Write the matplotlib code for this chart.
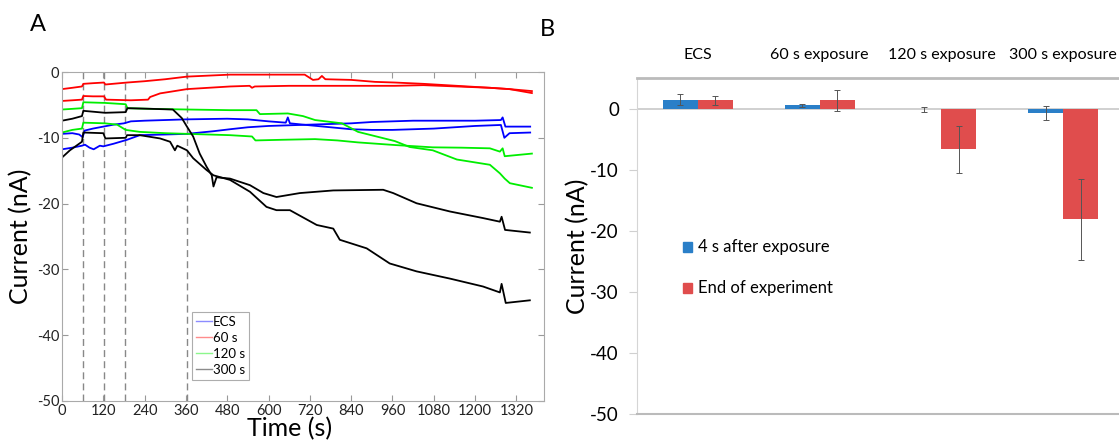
import matplotlib
matplotlib.use("Agg")
import matplotlib.pyplot as plt
from matplotlib.patches import Patch
from matplotlib.lines import Line2D

plt.rcParams['font.family'] = ['Lato', 'DejaVu Sans']
plt.rcParams['axes.unicode_minus'] = False

# ---- panel A: current traces (two recordings per condition) ----
ecs_1_t = [0, 30, 50, 60, 66, 90, 120, 150, 180, 200, 240, 300, 360, 480, 540, 600, 650, 656, 662,
           720, 780, 840, 900, 960, 1020, 1080, 1140, 1200, 1275, 1285, 1300, 1360]
ecs_1 = [-9.4, -9.3, -9.5, -9.9, -8.9, -8.6, -8.3, -8.0, -7.8, -7.5, -7.4, -7.3, -7.2, -7.1, -7.2, -7.5, -7.7, -6.9, -7.8,
         -8.1, -8.4, -8.7, -8.8, -8.8, -8.7, -8.6, -8.4, -8.2, -8.05, -10.0, -9.3, -9.2]
ecs_2_t = [0, 30, 58, 67, 80, 92, 110, 120, 150, 189, 226, 300, 363, 440, 488, 540, 600, 660, 720,
           780, 840, 900, 960, 1020, 1080, 1140, 1200, 1275, 1280, 1288, 1360]
ecs_2 = [-11.75, -11.5, -11.2, -11.05, -11.5, -11.75, -11.2, -11.3, -10.9, -10.3, -9.6, -9.5, -9.4, -9.0, -8.7, -8.4, -8.2, -8.1, -8.0,
         -7.9, -7.8, -7.6, -7.5, -7.4, -7.4, -7.4, -7.4, -7.3, -6.9, -8.3, -8.3]

s60_1_t = [0, 30, 58, 62, 90, 122, 126, 189, 240, 300, 363, 488, 600, 705, 729, 745, 755, 765,
           840, 909, 967, 1050, 1147, 1243, 1300, 1365]
s60_1 = [-2.6, -2.4, -2.2, -1.8, -1.7, -1.6, -1.9, -1.6, -1.4, -1.1, -0.7, -0.4, -0.4, -0.4, -1.2, -1.1, -0.6, -1.1,
         -1.2, -1.5, -1.6, -1.8, -2.1, -2.4, -2.6, -3.2]
s60_2_t = [0, 30, 58, 62, 90, 122, 128, 200, 250, 256, 285, 363, 488, 545, 552, 560, 660, 780,
           900, 967, 1050, 1147, 1243, 1300, 1365]
s60_2 = [-4.4, -4.3, -4.2, -3.65, -3.7, -3.7, -4.2, -4.3, -4.2, -3.8, -3.25, -2.6, -2.2, -2.1, -2.4, -2.2, -2.1, -2.1,
         -2.1, -2.1, -2.0, -2.2, -2.4, -2.6, -2.9]

s120_1_t = [0, 30, 58, 62, 125, 185, 190, 260, 363, 488, 565, 575, 656, 700, 735, 813, 860, 967,
            1010, 1077, 1147, 1243, 1272, 1286, 1301, 1365]
s120_1 = [-5.7, -5.6, -5.5, -4.6, -4.7, -4.9, -5.5, -5.6, -5.7, -5.8, -5.8, -6.4, -6.3, -6.7, -7.3, -7.8, -9.1, -10.5,
          -11.4, -11.9, -13.3, -14.1, -15.4, -16.2, -16.9, -17.6]
s120_2_t = [0, 30, 58, 62, 125, 160, 185, 226, 300, 363, 488, 552, 562, 640, 735, 800, 860, 967,
            1077, 1160, 1243, 1272, 1280, 1286, 1365]
s120_2 = [-9.2, -8.8, -8.6, -7.7, -7.8, -8.0, -8.8, -9.1, -9.3, -9.4, -9.6, -9.8, -10.4, -10.3, -10.2, -10.4, -10.7, -11.1,
          -11.45, -11.5, -11.6, -12.1, -11.6, -12.8, -12.4]

s300_1_t = [0, 30, 58, 62, 125, 185, 190, 260, 322, 348, 363, 381, 400, 420, 435, 440, 449, 488,
            546, 585, 623, 691, 788, 933, 962, 1030, 1127, 1223, 1272, 1277, 1287, 1359]
s300_1 = [-7.4, -7.1, -6.7, -5.9, -6.2, -6.1, -5.5, -5.6, -5.7, -7.0, -8.3, -9.8, -12.4, -14.4, -15.7, -17.4, -16.0, -16.2,
          -17.2, -18.4, -19.0, -18.4, -18.0, -17.9, -18.4, -19.95, -21.2, -22.2, -22.75, -22.0, -24.0, -24.4]
s300_2_t = [0, 23, 58, 62, 120, 126, 185, 189, 226, 285, 314, 328, 335, 363, 381, 420, 440, 488,
            546, 594, 623, 662, 740, 788, 807, 885, 952, 1030, 1127, 1223, 1272, 1277, 1289, 1359]
s300_2 = [-13.0, -11.9, -10.6, -9.2, -9.3, -10.1, -10.0, -9.6, -9.6, -10.1, -10.6, -11.9, -11.2, -11.9, -13.1, -14.9, -15.7, -16.4,
          -18.2, -20.5, -21.0, -21.0, -23.25, -23.8, -25.5, -26.8, -29.1, -30.3, -31.4, -32.6, -33.5, -32.2, -35.1, -34.7]

exposure_marks = [62, 122, 182, 362]
trace_labels = ['ECS', '60 s', '120 s', '300 s']
trace_colors = ['#0000FF', '#FF0000', '#00EE00', '#000000']

# ---- panel B: mean current per condition ----
groups = ['ECS', '60 s exposure', '120 s exposure', '300 s exposure']
after_4s = [1.45, 0.5, -0.15, -0.75]
after_4s_err = [0.9, 0.2, 0.35, 1.2]
end_exp = [1.35, 1.35, -6.7, -18.15]
end_exp_err = [0.7, 1.75, 3.8, 6.6]
bar_labels = ['4 s after exposure', 'End of experiment']
bar_colors = ['#2A7FC8', '#E04D4D']

fig = plt.figure(figsize=(11.19, 4.45), dpi=100)

# panel A
ax = fig.add_axes([0.0554, 0.0989, 0.4307, 0.7393])
pairs = [(ecs_1_t, ecs_1, ecs_2_t, ecs_2), (s60_1_t, s60_1, s60_2_t, s60_2),
         (s120_1_t, s120_1, s120_2_t, s120_2), (s300_1_t, s300_1, s300_2_t, s300_2)]
for (t1, y1, t2, y2), c in zip(pairs, trace_colors):
    ax.plot(t1, y1, color=c, lw=1.3)
    ax.plot(t2, y2, color=c, lw=1.3)
for xm in exposure_marks:
    ax.axvline(xm, color='#888888', lw=1, ls=(0, (5, 3)), zorder=0)

ax.set_xlim(0, 1400)
ax.set_ylim(-50, 0)
ax.set_xticks(range(0, 1321, 120))
ax.set_yticks(range(-50, 1, 10))
ax.tick_params(direction='in', top=True, right=True, length=4, color='#999999',
               labelsize=10.5, labelcolor='#222222', pad=2)
for s in ax.spines.values():
    s.set_color('#AAAAAA')
ax.set_xlabel('Time (s)', fontsize=18)
ax.xaxis.set_label_coords(0.473, -0.05)
ax.set_ylabel('Current (nA)', fontsize=18)
ax.yaxis.set_label_coords(-0.062, 0.5)

handles = [Line2D([], [], color=c, lw=1, alpha=0.45) for c in trace_colors]
leg = ax.legend(handles, trace_labels, loc='lower left', bbox_to_anchor=(0.27, 0.064),
                fontsize=9.5, handlelength=1.2, handletextpad=0.1, borderpad=0.3,
                labelspacing=0.3, fancybox=False, borderaxespad=0)
leg.get_frame().set_edgecolor('#999999')
leg.get_frame().set_linewidth(0.8)

# panel B
bx = fig.add_axes([0.5693, 0.0697, 0.4352, 0.7551])
w = 0.287
xs = list(range(len(groups)))
bx.axhline(0, color='#C8C8C8', lw=1.2, zorder=0)
err_kw = dict(ecolor='#555555', elinewidth=0.7, capsize=2, capthick=0.7)
bx.bar([x - w / 2 for x in xs], after_4s, w, yerr=after_4s_err, color=bar_colors[0],
       error_kw=err_kw, zorder=2)
bx.bar([x + w / 2 for x in xs], end_exp, w, yerr=end_exp_err, color=bar_colors[1],
       error_kw=err_kw, zorder=2)
bx.set_xlim(-0.5, 3.5)
bx.set_ylim(-50, 5)
bx.set_yticks(range(-50, 1, 10))
bx.set_xticks([])
bx.tick_params(axis='y', length=6, color='#D0D0D0', labelsize=13.5, pad=7)
bx.spines['top'].set_color('#BBBBBB')
bx.spines['top'].set_linewidth(2)
bx.spines['left'].set_color('#D5D5D5')
bx.spines['bottom'].set_color('#BBBBBB')
bx.spines['bottom'].set_linewidth(1.5)
bx.spines['right'].set_visible(False)
for x, g in zip(xs, groups):
    bx.text(x, 1.068, g, transform=bx.get_xaxis_transform(), ha='center', va='center', fontsize=11.5)
bx.set_ylabel('Current (nA)', fontsize=18)
bx.yaxis.set_label_coords(-0.098, 0.5)
bh = [Patch(color=c) for c in bar_colors]
bx.legend(bh, bar_labels, loc='center left', bbox_to_anchor=(0.094, 0.4345), frameon=False,
          fontsize=12, handlelength=0.55, handleheight=0.55, handletextpad=0.35,
          labelspacing=1.5, borderpad=0, borderaxespad=0)

fig.text(0.034, 0.944, 'A', fontsize=17, ha='center', va='center')
fig.text(0.489, 0.933, 'B', fontsize=17, ha='center', va='center')

fig.savefig('out.png', dpi=100)
